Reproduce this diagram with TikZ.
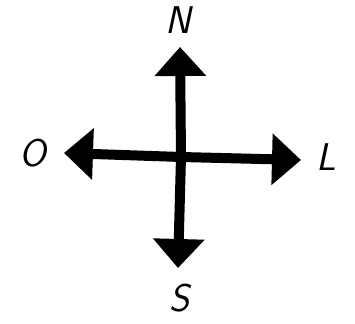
\documentclass[tikz,border=0pt]{standalone}
\usepackage{tikz}
\usetikzlibrary{arrows.meta}

\begin{document}
\begin{tikzpicture}[x=0.02cm,y=-0.02cm,
    pointer/.style={line width=0.2cm,-{Triangle[length=0.58cm,width=1.0cm]}},
    letter/.style={font=\fontsize{22}{24}\selectfont\sffamily\itshape}]
    \useasboundingbox (0,0) rectangle (355,324);
    % centre of the cross and the four tips
    \coordinate (c) at (181,157);
    \coordinate (n) at (180,47);
    \coordinate (s) at (178,268);
    \coordinate (o) at (64,153);
    \coordinate (l) at (301,160);
    \draw[pointer] (c) -- (n);
    \draw[pointer] (c) -- (s);
    \draw[pointer] (c) -- (o);
    \draw[pointer] (c) -- (l);
    % letters
    \node[letter] (north) at (178,20) {N};
    \node[letter] (west) at (33,153) {O};
    \node[letter] (east) at (326,157) {L};
    \node[letter] (south) at (180,298) {S};
\end{tikzpicture}
\end{document}
